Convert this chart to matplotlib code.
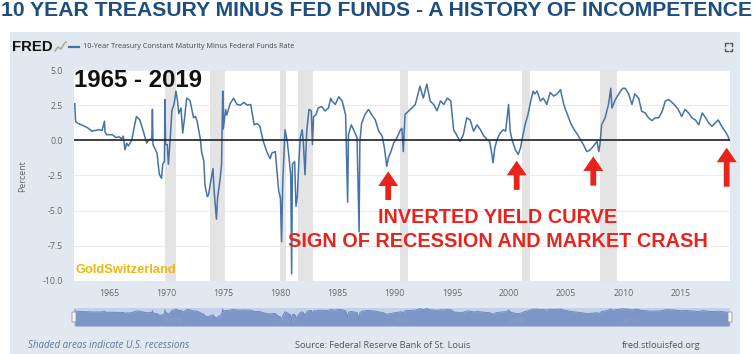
import matplotlib
matplotlib.use('Agg')
import matplotlib.pyplot as plt
from matplotlib.patches import Rectangle, FancyBboxPatch
from matplotlib.lines import Line2D

# 10-Year Treasury minus Fed Funds (decimal year, percent)
years = [
    1962.00, 1962.08, 1962.30, 1962.60, 1963.00, 1963.20, 1963.50, 1963.80, 1964.10, 1964.40,
    1964.60, 1964.65, 1964.80, 1965.30, 1965.60, 1965.90, 1966.10, 1966.25, 1966.40, 1966.55,
    1966.70, 1967.00, 1967.20, 1967.40, 1967.70, 1968.00, 1968.30, 1968.50, 1968.75, 1968.80,
    1968.85, 1969.20, 1969.40, 1969.60, 1969.70, 1969.85, 1969.90, 1969.95, 1970.10, 1970.20,
    1970.40, 1970.50, 1970.70, 1970.86, 1971.00, 1971.10, 1971.30, 1971.45, 1971.60, 1971.80,
    1972.00, 1972.10, 1972.40, 1972.56, 1972.70, 1973.00, 1973.10, 1973.30, 1973.40, 1973.60,
    1973.70, 1973.95, 1974.10, 1974.20, 1974.40, 1974.50, 1974.70, 1974.85, 1974.95, 1975.00,
    1975.20, 1975.30, 1975.60, 1975.90, 1976.20, 1976.50, 1976.80, 1977.10, 1977.40, 1977.70,
    1977.95, 1978.20, 1978.50, 1978.80, 1979.10, 1979.25, 1979.55, 1979.85, 1980.00, 1980.10,
    1980.20, 1980.40, 1980.60, 1980.90, 1980.98, 1981.05, 1981.24, 1981.36, 1981.48, 1981.60,
    1981.74, 1981.90, 1982.00, 1982.15, 1982.30, 1982.50, 1982.70, 1982.80, 1982.90, 1983.10,
    1983.30, 1983.60, 1983.90, 1984.20, 1984.40, 1984.50, 1984.80, 1985.10, 1985.40, 1985.70,
    1985.88, 1985.95, 1986.20, 1986.40, 1986.70, 1986.88, 1986.95, 1987.10, 1987.40, 1987.70,
    1988.00, 1988.30, 1988.60, 1988.90, 1989.10, 1989.30, 1989.46, 1989.67, 1989.90, 1990.20,
    1990.50, 1990.63, 1990.75, 1990.90, 1991.20, 1991.50, 1991.80, 1992.10, 1992.20, 1992.50,
    1992.80, 1993.10, 1993.40, 1993.70, 1994.00, 1994.30, 1994.60, 1994.90, 1995.15, 1995.40,
    1995.70, 1996.00, 1996.30, 1996.60, 1996.90, 1997.20, 1997.50, 1997.80, 1998.10, 1998.30,
    1998.50, 1998.60, 1998.75, 1998.95, 1999.20, 1999.50, 1999.70, 1999.96, 2000.10, 2000.26,
    2000.55, 2000.80, 2001.00, 2001.20, 2001.40, 2001.66, 2001.90, 2002.10, 2002.24, 2002.45,
    2002.74, 2003.00, 2003.30, 2003.60, 2003.90, 2004.20, 2004.50, 2004.80, 2005.10, 2005.40,
    2005.70, 2006.00, 2006.24, 2006.50, 2006.80, 2007.10, 2007.40, 2007.70, 2007.85, 2007.95,
    2008.10, 2008.40, 2008.70, 2008.90, 2009.00, 2009.30, 2009.60, 2009.94, 2010.17, 2010.46,
    2010.75, 2011.00, 2011.34, 2011.60, 2011.90, 2012.20, 2012.50, 2012.80, 2013.10, 2013.40,
    2013.67, 2013.96, 2014.25, 2014.50, 2014.80, 2015.10, 2015.40, 2015.70, 2016.00, 2016.30,
    2016.60, 2016.90, 2017.20, 2017.50, 2017.76, 2018.00, 2018.30, 2018.60, 2018.90, 2019.15,
    2019.27,
]
spread = [
    2.60, 1.35, 1.20, 1.10, 0.95, 0.85, 0.65, 0.70, 0.76, 0.70,
    1.36, 0.60, 0.40, 0.40, 0.20, 0.25, 0.10, 0.30, -0.67, -0.20,
    -0.40, 0.05, 0.90, 1.70, 1.45, 0.65, -0.20, 0.05, 0.10, 2.20,
    -0.30, -0.90, -2.40, -2.70, -1.70, -1.50, 2.90, -0.30, -0.30, -1.70,
    0.65, 2.10, 2.60, 3.50, 2.80, 1.90, 2.30, 0.52, 1.50, 3.00,
    2.90, 2.80, 1.60, 1.70, 1.40, 0.05, -0.80, -1.50, -3.20, -4.00,
    -3.90, -2.70, -2.00, -3.60, -5.60, -4.10, -2.90, -1.70, 3.50, 0.80,
    2.20, 1.80, 2.60, 3.00, 2.55, 2.50, 2.70, 2.50, 2.55, 1.10,
    1.20, 1.00, -0.07, -0.80, -1.30, -0.90, -0.80, -3.60, -4.10, -7.20,
    -3.00, 0.75, -0.07, -2.45, -9.50, -1.70, -1.50, -4.70, -4.00, -1.70,
    0.20, 0.75, -0.07, -2.45, 0.65, 2.20, 2.10, -0.30, 1.70, 1.80,
    2.30, 2.40, 2.10, 2.30, 3.00, 2.80, 2.55, 3.10, 2.80, 1.80,
    -4.40, 0.40, 1.10, 0.75, 0.20, -6.50, -0.10, 1.20, 1.84, 2.20,
    1.80, 1.45, 0.65, 0.30, -0.55, -1.85, -1.20, -0.80, -0.20, 0.20,
    0.75, 0.85, -0.80, 1.84, 2.07, 2.30, 2.55, 3.50, 3.85, 3.00,
    4.00, 2.80, 2.55, 2.10, 2.80, 2.55, 3.00, 2.80, 0.75, 0.40,
    -0.07, 0.40, 1.60, 1.45, 0.65, 1.10, 0.75, 0.30, 0.05, -0.07,
    -1.00, -1.60, -0.55, 0.05, 0.50, 0.75, 0.65, 2.55, 0.65, 0.05,
    -0.67, -1.00, -0.55, 0.30, 1.10, 1.84, 2.80, 3.50, 3.30, 3.50,
    2.80, 3.00, 2.55, 3.40, 3.15, 3.30, 3.60, 2.50, 1.84, 1.20,
    0.75, 0.40, 0.05, -0.30, -0.80, -0.67, -0.40, -0.07, -0.80, -0.30,
    1.10, 1.60, 2.55, 3.70, 2.30, 2.90, 3.30, 3.70, 3.70, 3.30,
    2.55, 3.30, 3.00, 2.07, 1.95, 1.60, 1.40, 1.60, 1.60, 2.07,
    2.80, 2.90, 2.70, 2.50, 2.20, 1.70, 2.20, 1.95, 1.60, 1.45,
    1.10, 1.95, 1.60, 1.20, 1.00, 1.20, 1.45, 1.00, 0.65, 0.30,
    0.00,
]

# NBER recessions (start, end)
rec_start = [1969.92, 1973.83, 1980.00, 1981.50, 1990.50, 2001.17, 2007.92]
rec_end = [1970.83, 1975.17, 1980.50, 1982.83, 1991.17, 2001.83, 2009.42]

x_ticks = [1965, 1970, 1975, 1980, 1985, 1990, 1995, 2000, 2005, 2010, 2015]
y_ticks = [5.0, 2.5, 0.0, -2.5, -5.0, -7.5, -10.0]

# inverted-curve arrows: (x, tip, base)
arrow_x = [1989.43, 2000.67, 2007.37, 2019.04]
arrow_tip = [-2.21, -1.45, -1.14, -0.52]
arrow_base = [-4.24, -3.52, -3.22, -3.30]

W, H = 754, 354
blue = '#4572a7'
red = '#e8231b'
panel = '#e1e8f0'

fig = plt.figure(figsize=(W / 100, H / 100), dpi=100)
fig.patch.set_facecolor('white')

def fx(px):
    return px / W

def fy(py):
    return 1 - py / H

# grey-blue FRED panel
fig.patches.append(Rectangle((fx(10), 0), fx(730), 1 - 32 / H, transform=fig.transFigure,
                             facecolor=panel, edgecolor='none', zorder=-5))

fig.text(0.5, fy(11), '10 YEAR TREASURY MINUS FED FUNDS - A HISTORY OF INCOMPETENCE',
         ha='center', va='center', fontsize=15.2, fontweight='bold',
         family='Liberation Sans', color='#1d4e7f')

# header
fig.text(fx(12), fy(47), 'FRED', ha='left', va='center', fontsize=10.7,
         fontweight='heavy', family='Liberation Sans', color='#111111')
fig.lines.append(Line2D([fx(55), fx(58), fx(61), fx(64), fx(66)],
                        [fy(51), fy(47), fy(49), fy(44), fy(42)],
                        transform=fig.transFigure, color='#9fb59a', lw=1.2))
fig.lines.append(Line2D([fx(69), fx(79)], [fy(47), fy(47)], transform=fig.transFigure,
                        color=blue, lw=1.6))
fig.text(fx(83), fy(47), '10-Year Treasury Constant Maturity Minus Federal Funds Rate',
         ha='left', va='center', fontsize=5.2, family='Open Sans', color='#444444')
for cx, cy, dx, dy in [(725, 43, 1, 1), (732, 43, -1, 1), (725, 51, 1, -1), (732, 51, -1, -1)]:
    fig.lines.append(Line2D([fx(cx + 2.5 * dx), fx(cx), fx(cx)],
                            [fy(cy), fy(cy), fy(cy + 2.5 * dy)],
                            transform=fig.transFigure, color='#555555', lw=1.0))

# main chart
ax = fig.add_axes([fx(74), fy(281), fx(656), (281 - 70) / H])
ax.set_facecolor('white')
for s, e in zip(rec_start, rec_end):
    ax.axvspan(s, e, color='#e4e4e4', lw=0, zorder=1)
ax.plot(years, spread, color=blue, lw=1.1, zorder=3)
ax.axhline(0, color='#222222', lw=1.2, zorder=4)
ax.set_xlim(1961.94, 2019.33)
ax.set_ylim(-10, 5)
ax.set_xticks(x_ticks)
ax.set_yticks(y_ticks)
ax.set_yticklabels([f'{v:.1f}' for v in y_ticks])
ax.grid(axis='y', color='#ececec', lw=0.8, zorder=0)
ax.set_axisbelow(True)
for sp in ax.spines.values():
    sp.set_visible(False)
ax.tick_params(length=0, labelsize=6.3, labelcolor='#666666')
ax.tick_params(axis='x', pad=6)
ax.tick_params(axis='y', pad=8)
for lab in ax.get_xticklabels() + ax.get_yticklabels():
    lab.set_family('Open Sans')
fig.text(fx(23), fy(176), 'Percent', rotation=90, ha='center', va='center',
         fontsize=6.3, family='Open Sans', color='#666666')

ax.text(0.0, 1 - (87 - 70) / 211, '1965 - 2019', transform=ax.transAxes, ha='left',
        va='baseline', fontsize=17.3, fontweight='bold', family='Liberation Sans',
        color='#111111', zorder=6)
ax.text(2 / 656, (281 - 273) / 211, 'GoldSwitzerland', transform=ax.transAxes,
        ha='left', va='baseline', fontsize=9.3, fontweight='bold',
        family='Liberation Sans', color='#f0b513', zorder=6)
ax.text(1988.53, (140.7 - 223) / 14, 'INVERTED YIELD CURVE', ha='left', va='baseline',
        fontsize=14.3, fontweight='bold', family='Liberation Sans', color=red, zorder=6)
ax.text(1980.66, (140.7 - 247) / 14, 'SIGN OF RECESSION AND MARKET CRASH', ha='left',
        va='baseline', fontsize=14.3, fontweight='bold', family='Liberation Sans',
        color=red, zorder=6)
for x, tip, base in zip(arrow_x, arrow_tip, arrow_base):
    ax.annotate('', xy=(x, tip), xytext=(x, base), annotation_clip=False,
                arrowprops=dict(facecolor=red, edgecolor='none', width=4.2,
                                headwidth=14.4, headlength=10.5, shrink=0), zorder=7)

# navigator strip
nav = fig.add_axes([fx(74), fy(326), fx(656), 18 / H])
nav.set_facecolor('#c3d2e9')
nav.fill_between(years, spread, -13, color='#7b96c7', lw=0)
nav.plot(years, spread, color='#6684b9', lw=0.6)
nav.set_xlim(1961.94, 2019.33)
nav.set_ylim(-13, 4.5)
nav.set_xticks([])
nav.set_yticks([])
for sp in nav.spines.values():
    sp.set_visible(False)
for yr in [1970, 1980, 1990, 2000, 2010]:
    nav.text(yr + 0.6, -9.0, str(yr), ha='center', va='center', fontsize=5.5,
             family='Open Sans', color='#8aa0c8')
for hx in [74, 730]:
    fig.patches.append(FancyBboxPatch((fx(hx - 2), fy(322)), fx(4), 10 / H,
                                      boxstyle='round,pad=0', transform=fig.transFigure,
                                      facecolor='#f4f4f4', edgecolor='#999999', lw=0.6,
                                      zorder=5))

# footer
fig.text(fx(28), fy(345), 'Shaded areas indicate U.S. recessions', ha='left', va='center',
         fontsize=7.0, style='italic', family='Open Sans', color='#5b77a0')
fig.text(fx(383), fy(345), 'Source: Federal Reserve Bank of St. Louis', ha='center',
         va='center', fontsize=6.7, family='Open Sans', color='#555555')
fig.text(fx(700), fy(345), 'fred.stlouisfed.org', ha='right', va='center',
         fontsize=6.7, family='Open Sans', color='#555555')

fig.savefig('out.png', dpi=100)
